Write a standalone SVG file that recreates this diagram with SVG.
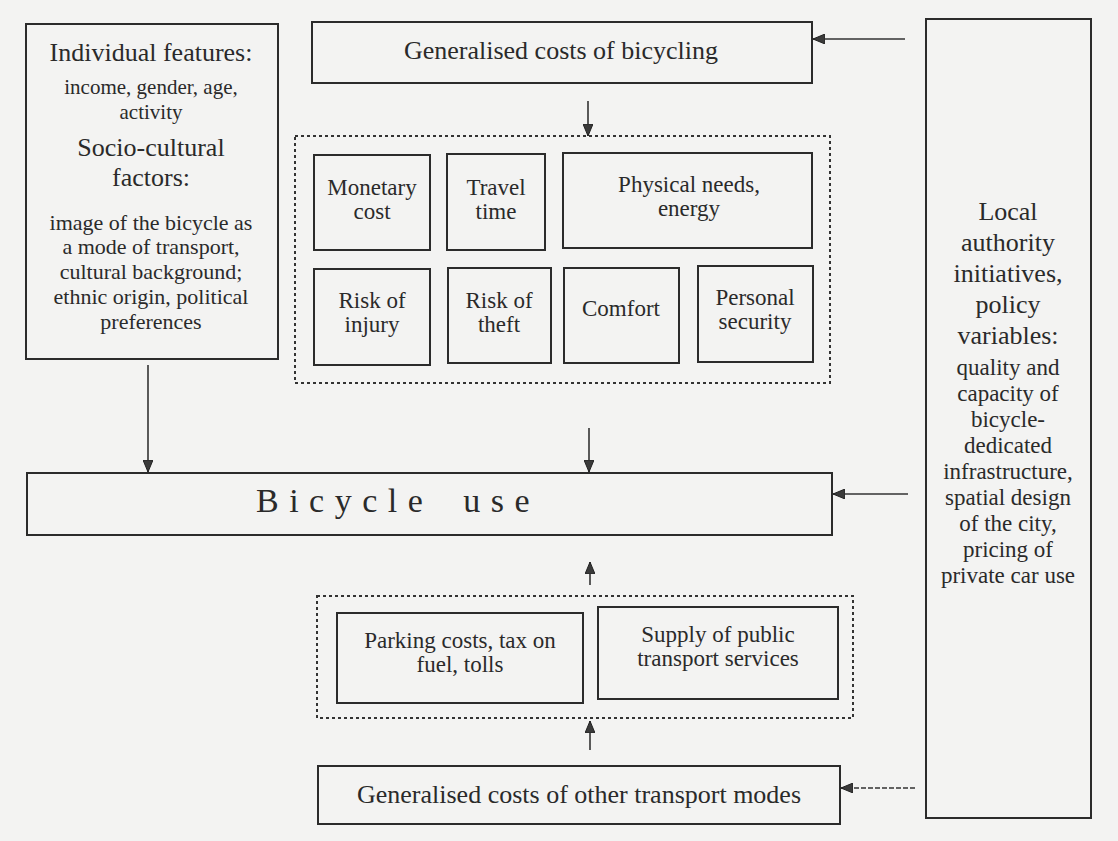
<svg xmlns="http://www.w3.org/2000/svg" width="1118" height="841" viewBox="0 0 1118 841">
<style>
.box{fill:none;stroke:#2b2b2b;stroke-width:2}
.dot{fill:none;stroke:#333;stroke-width:2;stroke-dasharray:3 3}
.con{fill:none;stroke:#333;stroke-width:1.6}
.dash{stroke-dasharray:5 2}
text{font-family:"Liberation Serif","Times New Roman",serif;fill:#2a2a2a;text-anchor:middle}
.t26{font-size:26px}
.t23{font-size:23px}
.t22{font-size:22px}
.t21{font-size:21px}
</style>
<defs>
<marker id="ah" viewBox="0 0 12 10" refX="12" refY="5" markerWidth="12" markerHeight="10" markerUnits="userSpaceOnUse" orient="auto">
<path d="M0,0 L12,5 L0,10 Z" fill="#3a3a3a" stroke="#222" stroke-width="1"/>
</marker>
</defs>
<rect width="1118" height="841" fill="#f3f3f2"/>

<g id="individual">
<rect class="box" x="26" y="24" width="252" height="335"/>
<text class="t26" x="151" y="61">Individual features:</text>
<text class="t21" x="151" y="94">income, gender, age,</text>
<text class="t21" x="151" y="119">activity</text>
<text class="t26" x="151" y="156">Socio-cultural</text>
<text class="t26" x="151" y="186">factors:</text>
<text class="t22" x="151" y="230">image of the bicycle as</text>
<text class="t22" x="151" y="254">a mode of transport,</text>
<text class="t22" x="151" y="279">cultural background;</text>
<text class="t22" x="151" y="304">ethnic origin, political</text>
<text class="t22" x="151" y="329">preferences</text>
</g>

<g id="gc-bicycling">
<rect class="box" x="312" y="22" width="500" height="61"/>
<text class="t26" x="561" y="59">Generalised costs of bicycling</text>
</g>

<g id="cost-group">
<rect class="dot" x="295" y="136" width="535" height="247"/>
</g>
<g id="monetary">
<rect class="box" x="314" y="155" width="116" height="95"/>
<text class="t23" x="372" y="195">Monetary</text>
<text class="t23" x="372" y="219">cost</text>
</g>
<g id="travel">
<rect class="box" x="447" y="154" width="98" height="96"/>
<text class="t23" x="496" y="195">Travel</text>
<text class="t23" x="496" y="219">time</text>
</g>
<g id="physical">
<rect class="box" x="563" y="153" width="249" height="95"/>
<text class="t23" x="689" y="192">Physical needs,</text>
<text class="t23" x="689" y="216">energy</text>
</g>
<g id="injury">
<rect class="box" x="314" y="269" width="116" height="96"/>
<text class="t23" x="372" y="308">Risk of</text>
<text class="t23" x="372" y="332">injury</text>
</g>
<g id="theft">
<rect class="box" x="448" y="268" width="103" height="95"/>
<text class="t23" x="499" y="308">Risk of</text>
<text class="t23" x="499" y="332">theft</text>
</g>
<g id="comfort">
<rect class="box" x="564" y="268" width="115" height="95"/>
<text class="t23" x="621" y="316">Comfort</text>
</g>
<g id="security">
<rect class="box" x="698" y="266" width="115" height="96"/>
<text class="t23" x="755" y="305">Personal</text>
<text class="t23" x="755" y="329">security</text>
</g>

<g id="bicycle-use">
<rect class="box" x="27" y="473" width="805" height="62"/>
<text x="256" y="512" style="font-size:34px;letter-spacing:10.5px;word-spacing:11px;text-anchor:start">Bicycle use</text>
</g>

<g id="car-group">
<rect class="dot" x="317" y="596" width="536" height="122"/>
</g>
<g id="parking">
<rect class="box" x="337" y="613" width="246" height="90"/>
<text class="t23" x="460" y="648">Parking costs, tax on</text>
<text class="t23" x="460" y="672">fuel, tolls</text>
</g>
<g id="public-transport">
<rect class="box" x="598" y="607" width="240" height="92"/>
<text class="t23" x="718" y="642">Supply of public</text>
<text class="t23" x="718" y="666">transport services</text>
</g>

<g id="gc-other">
<rect class="box" x="318" y="766" width="522" height="58"/>
<text class="t26" x="579" y="803">Generalised costs of other transport modes</text>
</g>

<g id="local-authority">
<rect class="box" x="926" y="19" width="165" height="799"/>
<text class="t26" x="1008" y="220">Local</text>
<text class="t26" x="1008" y="251">authority</text>
<text class="t26" x="1008" y="282">initiatives,</text>
<text class="t26" x="1008" y="313">policy</text>
<text class="t26" x="1008" y="344">variables:</text>
<text class="t23" x="1008" y="375">quality and</text>
<text class="t23" x="1008" y="401">capacity of</text>
<text class="t23" x="1008" y="427">bicycle-</text>
<text class="t23" x="1008" y="453">dedicated</text>
<text class="t23" x="1008" y="479">infrastructure,</text>
<text class="t23" x="1008" y="505">spatial design</text>
<text class="t23" x="1008" y="531">of the city,</text>
<text class="t23" x="1008" y="557">pricing of</text>
<text class="t23" x="1008" y="583">private car use</text>
</g>

<g id="connectors">
<line class="con" x1="905" y1="39" x2="813" y2="39" marker-end="url(#ah)"/>
<line class="con" x1="588" y1="101" x2="588" y2="136" marker-end="url(#ah)"/>
<line class="con" x1="148" y1="365" x2="148" y2="472" marker-end="url(#ah)"/>
<line class="con" x1="589" y1="428" x2="589" y2="472" marker-end="url(#ah)"/>
<line class="con" x1="908" y1="494" x2="833" y2="494" marker-end="url(#ah)"/>
<line class="con" x1="590" y1="585" x2="590" y2="562" marker-end="url(#ah)"/>
<line class="con" x1="590" y1="750" x2="590" y2="721" marker-end="url(#ah)"/>
<line class="con dash" x1="915" y1="788" x2="841" y2="788" marker-end="url(#ah)"/>
</g>
</svg>
